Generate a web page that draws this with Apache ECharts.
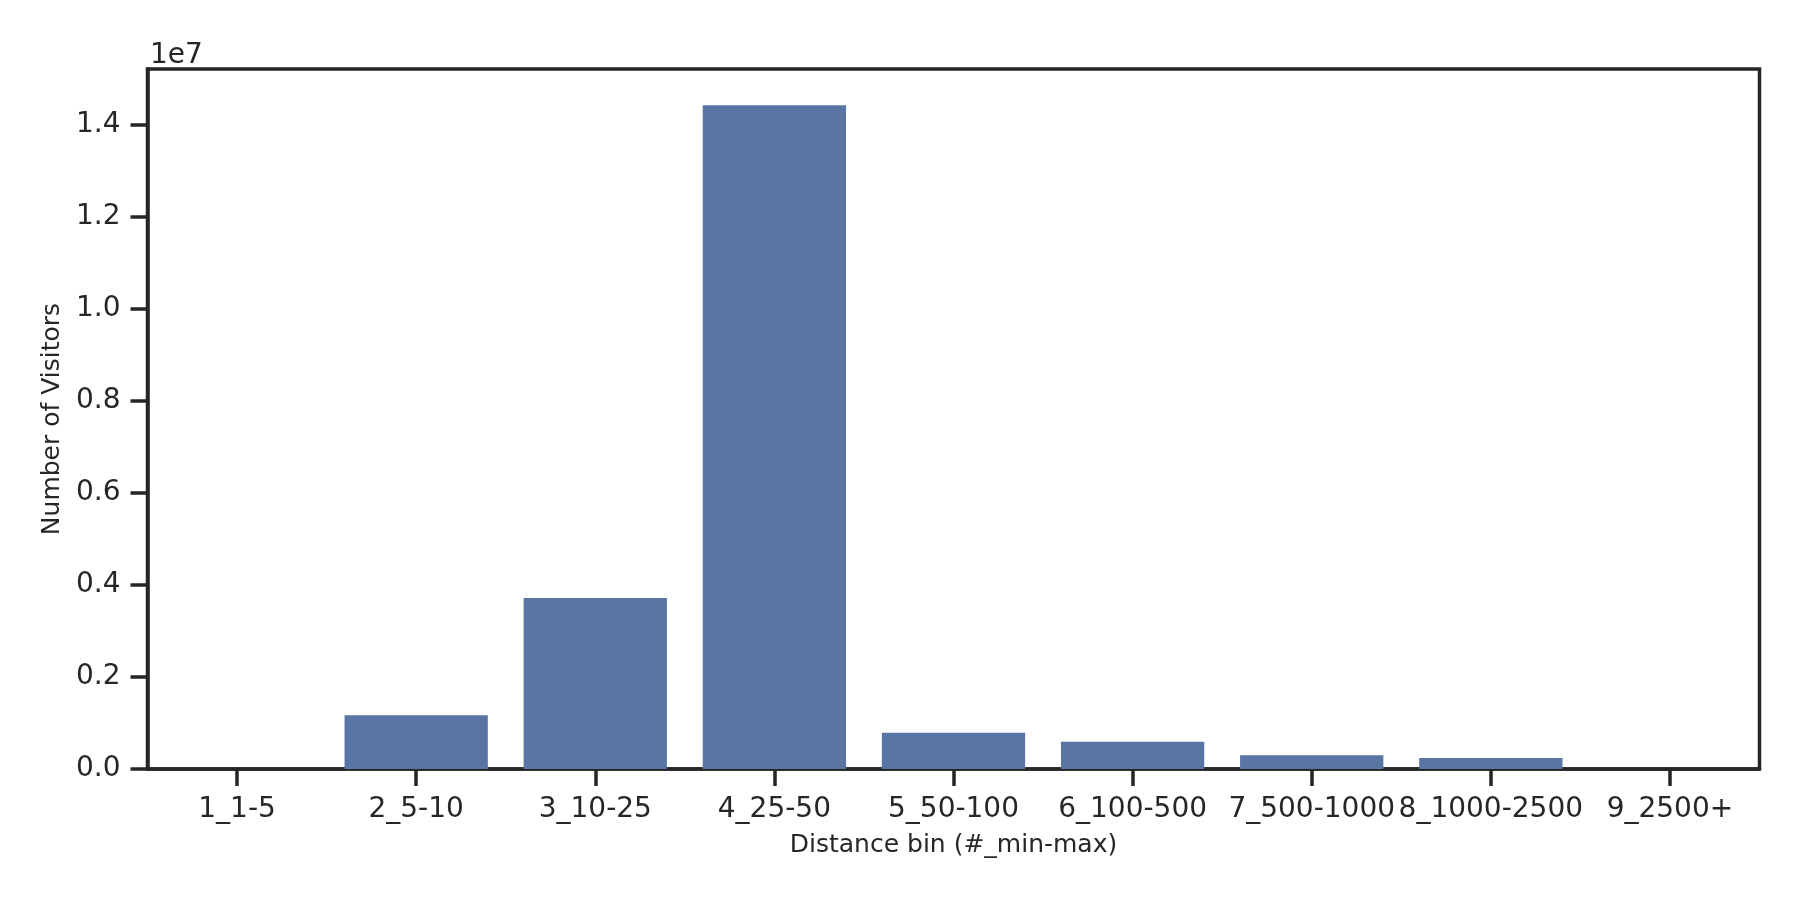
<!DOCTYPE html>
<html>
<head>
<meta charset="utf-8">
<script src="https://cdn.jsdelivr.net/npm/echarts@6/dist/echarts.min.js"></script>
<style>
html,body{margin:0;padding:0;background:#fff;}
#chart{width:1800px;height:900px;}
</style>
</head>
<body>
<div id="chart"></div>
<script>
const categories = ['1_1-5','2_5-10','3_10-25','4_25-50','5_50-100','6_100-500','7_500-1000','8_1000-2500','9_2500+'];
const visitors = [1000, 1170000, 3720000, 14430000, 790000, 590000, 300000, 240000, 1000];
const yTicks = [0, 2000000, 4000000, 6000000, 8000000, 10000000, 12000000, 14000000];

const FONT = 'DejaVu Sans';
const INK = '#262626';

const chart = echarts.init(document.getElementById('chart'), null, {renderer: 'canvas'});
chart.setOption({
  animation: false,
  backgroundColor: '#ffffff',
  grid: {
    left: 147.5, right: 40.5, top: 69, bottom: 131,
    show: true, borderColor: INK, borderWidth: 3.5, backgroundColor: 'transparent'
  },
  xAxis: {
    type: 'category',
    data: categories,
    boundaryGap: true,
    name: 'Distance bin (#_min-max)',
    nameLocation: 'middle',
    nameGap: 64,
    nameTextStyle: {fontFamily: FONT, fontSize: 25, color: INK},
    axisLine: {show: true, lineStyle: {color: INK, width: 3.5}},
    axisTick: {show: true, alignWithLabel: true, length: 17, lineStyle: {color: INK, width: 3.5}},
    axisLabel: {interval: 0, margin: 27, fontFamily: FONT, fontSize: 28, color: INK},
    splitLine: {show: false}
  },
  yAxis: {
    type: 'value',
    min: 0,
    max: 15220000,
    interval: 2000000,
    name: 'Number of Visitors',
    nameLocation: 'middle',
    nameGap: 80,
    nameTextStyle: {fontFamily: FONT, fontSize: 25, color: INK},
    axisLine: {show: true, lineStyle: {color: INK, width: 3.5}},
    axisTick: {show: true, length: 17, customValues: yTicks, lineStyle: {color: INK, width: 3.5}},
    axisLabel: {
      margin: 27, fontFamily: FONT, fontSize: 28, color: INK,
      customValues: yTicks,
      formatter: v => (v / 1e7).toFixed(1)
    },
    splitLine: {show: false}
  },
  graphic: [{
    type: 'text',
    left: 150,
    top: 42,
    style: {text: '1e7', fontFamily: FONT, fontSize: 28, fill: INK}
  }],
  series: [{
    type: 'bar',
    data: visitors,
    barWidth: '80%',
    itemStyle: {color: '#5975a4'}
  }]
});
</script>
</body>
</html>
